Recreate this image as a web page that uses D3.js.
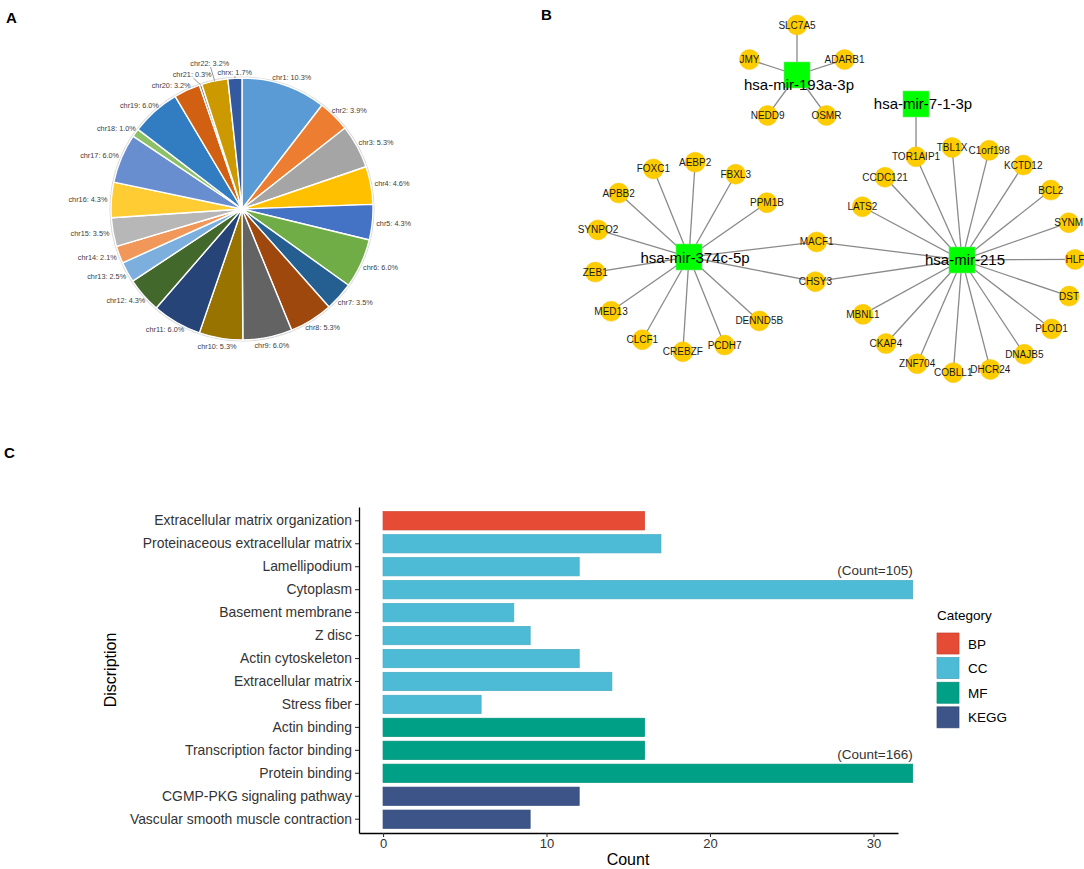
<!DOCTYPE html>
<html>
<head>
<meta charset="utf-8">
<script src="https://cdn.jsdelivr.net/npm/d3@7"></script>
<style>
  html, body { margin: 0; padding: 0; background: #fff; }
  svg { display: block; font-family: Arial, "Liberation Sans", sans-serif; }
</style>
</head>
<body>
<svg id="fig" width="1084" height="869"></svg>
<script>
// ---------------- DATA ----------------
// Panel A
const chromosomes = ["chr1","chr2","chr3","chr4","chr5","chr6","chr7","chr8","chr9","chr10","chr11","chr12",
  "chr13","chr14","chr15","chr16","chr17","chr18","chr19","chr20","chr21","chr22","chrx"];
const chrPercents = [10.3,3.9,5.3,4.6,4.3,6.0,3.5,5.3,6.0,5.3,6.0,4.3,2.5,2.1,3.5,4.3,6.0,1.0,6.0,3.2,0.3,3.2,1.7];

// Panel B
const mirnas = ["hsa-mir-193a-3p","hsa-mir-7-1-3p","hsa-mir-374c-5p","hsa-mir-215"];
const targets193a = ["SLC7A5","ADARB1","OSMR","NEDD9","JMY"];
const targets7 = ["TOR1AIP1"];
const targets374c = ["FOXC1","AEBP2","FBXL3","PPM1B","MACF1","CHSY3","DENND5B","PCDH7","CREBZF","CLCF1","MED13","ZEB1","SYNPO2","APBB2"];
const targets215 = ["TOR1AIP1","TBL1X","C1orf198","KCTD12","BCL2","SYNM","HLF","DST","PLOD1","DNAJB5","DHCR24","COBLL1","ZNF704","CKAP4","MBNL1","CHSY3","MACF1","LATS2","CCDC121"];

// Panel C
const terms = ["Extracellular matrix organization","Proteinaceous extracellular matrix","Lamellipodium","Cytoplasm",
  "Basement membrane","Z disc","Actin cytoskeleton","Extracellular matrix","Stress fiber","Actin binding",
  "Transcription factor binding","Protein binding","CGMP-PKG signaling pathway","Vascular smooth muscle contraction"];
const termCounts = [16,17,12,105,8,9,12,14,6,16,16,166,12,9];
const termCategory = ["BP","CC","CC","CC","CC","CC","CC","CC","CC","MF","MF","MF","KEGG","KEGG"];
const categories = ["BP","CC","MF","KEGG"];
const xTicks = [0,10,20,30];

// ---------------- STYLE ----------------
const pieColors = ["#5B9BD5","#ED7D31","#A5A5A5","#FFC000","#4472C4","#70AD47","#255E91","#9E480E","#636363",
  "#997300","#264478","#43682B","#7CAFDD","#F1975A","#B7B7B7","#FFCD33","#698ED0","#8CC168","#327DC2",
  "#D26012","#848484","#CC9A00","#335AA1"];
const catColors = {BP:"#E64B35", CC:"#4DBBD5", MF:"#00A087", KEGG:"#3C5488"};

const svg = d3.select("#fig");
svg.append("rect").attr("width",1084).attr("height",869).attr("fill","#fff");

// panel letters
[["A",6,23],["B",541,20],["C",4,458]].forEach(([t,x,y]) =>
  svg.append("text").attr("x",x).attr("y",y).text(t)
    .attr("font-size",15).attr("font-weight","bold").attr("fill","#000"));

// ================= PANEL A : pie =================
(function(){
  const cx = 242, cy = 209, R = 131;
  const g = svg.append("g").attr("transform",`translate(${cx},${cy})`);
  const data = chromosomes.map((c,i)=>({name:c, value:chrPercents[i], color:pieColors[i]}));
  const pie = d3.pie().sort(null).value(d=>d.value);
  const arcs = pie(data);
  const arc = d3.arc().innerRadius(0).outerRadius(R);
  g.append("circle").attr("r",R+0.8).attr("fill","none").attr("stroke","#d8d8d8").attr("stroke-width",1.5);
  g.selectAll("path.slice").data(arcs).join("path")
    .attr("class","slice").attr("d",arc)
    .attr("fill",d=>d.data.color).attr("stroke","#fff").attr("stroke-width",1.4).attr("stroke-linejoin","round");

  const nudge = {chr20:[-6,3], chr21:[-1,-3], chr22:[0,-10], chrx:[1,2]};
  const leader = new Set(["chr21","chr22","chrx"]);
  const fs = 7.3;
  const lab = g.append("g").attr("font-size",fs).attr("fill","#404040");
  arcs.forEach(a=>{
    const t = `${a.data.name}: ${a.data.value.toFixed(1)}%`;
    const mid = (a.startAngle+a.endAngle)/2;
    const s = Math.sin(mid), c = -Math.cos(mid);
    const txt = lab.append("text").text(t).attr("text-anchor","middle");
    const w = txt.node().getComputedTextLength();
    const h = fs*1.1;
    const rr = R+4;
    const nd = nudge[a.data.name] || [0,0];
    const x = rr*s + (w/2)*s + nd[0];
    const y = rr*c + (h/2)*c + nd[1];
    txt.attr("x",x).attr("y",y+fs*0.35);
    if (leader.has(a.data.name)) {
      g.insert("line","g").attr("x1",R*s).attr("y1",R*c)
        .attr("x2",x - (w/2)*s*0.2).attr("y2",y+h/2)
        .attr("stroke","#7f7f7f").attr("stroke-width",0.8);
    }
  });
})();

// ================= PANEL B : network =================
(function(){
  const hubLayout = {
    "hsa-mir-193a-3p": {cx:797, cy:75, r:50, start:0, targets:targets193a, ldx:2, ldy:10},
    "hsa-mir-7-1-3p":  {cx:916, cy:104, r:0, start:0, targets:targets7, ldx:7, ldy:0},
    "hsa-mir-374c-5p": {cx:689, cy:257, r:95, start:338, targets:targets374c, ldx:6, ldy:1},
    "hsa-mir-215":     {cx:962, cy:260, r:113, start:336, targets:targets215, ldx:3, ldy:0}
  };
  const slots = {};
  mirnas.forEach(m=>{
    const L = hubLayout[m];
    if (L.r <= 0) return;
    const ang = d3.scaleLinear().domain([0, L.targets.length]).range([L.start, L.start+360]);
    L.targets.forEach((t,i)=>{
      const a = ang(i)*Math.PI/180;
      (slots[t] = slots[t]||[]).push([L.cx + L.r*Math.sin(a), L.cy - L.r*Math.cos(a)]);
    });
  });
  const genePos = {};
  Object.keys(slots).forEach(k=>{
    genePos[k] = [d3.mean(slots[k],p=>p[0]), d3.mean(slots[k],p=>p[1])];
  });
  const edges = [];
  mirnas.forEach(m=>hubLayout[m].targets.forEach(t=>edges.push([m,t])));

  const g = svg.append("g");
  g.selectAll("line.edge").data(edges).join("line")
    .attr("x1",d=>hubLayout[d[0]].cx).attr("y1",d=>hubLayout[d[0]].cy)
    .attr("x2",d=>genePos[d[1]][0]).attr("y2",d=>genePos[d[1]][1])
    .attr("stroke","#8a8a8a").attr("stroke-width",1.3);
  const genes = Object.keys(genePos);
  g.selectAll("circle.gene").data(genes).join("circle")
    .attr("cx",d=>genePos[d][0]).attr("cy",d=>genePos[d][1]).attr("r",10)
    .attr("fill","#FFCC00").attr("stroke","#F5C400").attr("stroke-width",0.5);
  g.selectAll("rect.hub").data(mirnas).join("rect")
    .attr("x",d=>hubLayout[d].cx-13).attr("y",d=>hubLayout[d].cy-13)
    .attr("width",26).attr("height",26).attr("fill","#00FF00").attr("stroke","#7be87b").attr("stroke-width",0.6);
  g.selectAll("text.gene").data(genes).join("text")
    .attr("x",d=>genePos[d][0]).attr("y",d=>genePos[d][1]+3.5)
    .attr("text-anchor","middle").attr("font-size",10).attr("fill","#1a1a1a").text(d=>d);
  g.selectAll("text.hub").data(mirnas).join("text")
    .attr("x",d=>hubLayout[d].cx+hubLayout[d].ldx).attr("y",d=>hubLayout[d].cy+hubLayout[d].ldy+5.3)
    .attr("text-anchor","middle").attr("font-size",15).attr("fill","#000").text(d=>d);
})();

// ================= PANEL C : bar chart =================
(function(){
  const cap = 32.4;
  const x = d3.scaleLinear().domain([-1.47, 31.5]).range([359, 898]);
  const y = d3.scaleBand().domain(terms).range([507, 833]).paddingInner(0.2).paddingOuter(0.2);
  const g = svg.append("g");
  const rows = terms.map((t,i)=>({term:t, count:termCounts[i], cat:termCategory[i]}));

  g.selectAll("rect.bar").data(rows).join("rect")
    .attr("x",x(0)).attr("y",d=>y(d.term))
    .attr("width",d=>x(Math.min(d.count,cap))-x(0)).attr("height",y.bandwidth())
    .attr("fill",d=>catColors[d.cat]).attr("stroke",d=>d3.color(catColors[d.cat]).darker(0.25)).attr("stroke-width",0.7);

  g.selectAll("text.cnt").data(rows.filter(d=>d.count>cap)).join("text")
    .attr("x",x(cap)).attr("y",d=>y(d.term)-5)
    .attr("text-anchor","end").attr("font-size",13.5).attr("fill","#333").text(d=>`(Count=${d.count})`);

  // y axis
  const ya = g.append("g").attr("transform",`translate(${x.range()[0]},0)`)
    .call(d3.axisLeft(y).tickSize(4).tickSizeOuter(0).tickPadding(3));
  ya.select(".domain").attr("stroke","#000").attr("stroke-width",1.3);
  ya.selectAll(".tick line").attr("stroke","#333").attr("stroke-width",1.1);
  ya.selectAll(".tick text").attr("font-size",13.9).attr("fill","#333").attr("font-family","Arial, 'Liberation Sans', sans-serif");

  // x axis
  const xa = g.append("g").attr("transform",`translate(0,${y.range()[1]})`)
    .call(d3.axisBottom(x).tickValues(xTicks).tickSize(4).tickSizeOuter(0).tickPadding(2).tickFormat(d3.format("d")));
  xa.select(".domain").attr("stroke","#000").attr("stroke-width",1.3);
  xa.selectAll(".tick line").attr("stroke","#333").attr("stroke-width",1.1);
  xa.selectAll(".tick text").attr("font-size",13).attr("fill","#333").attr("font-family","Arial, 'Liberation Sans', sans-serif");

  g.append("text").attr("x",628).attr("y",865).attr("text-anchor","middle")
    .attr("font-size",16).attr("fill","#000").text("Count");
  g.append("text").attr("transform","translate(116,670) rotate(-90)").attr("text-anchor","middle")
    .attr("font-size",16).attr("fill","#000").text("Discription");

  // legend
  const lg = g.append("g").attr("transform","translate(937,0)");
  lg.append("text").attr("x",0).attr("y",620).attr("font-size",13.5).attr("fill","#000").text("Category");
  const ly = d3.scaleBand().domain(categories).range([633, 729]).paddingInner(0.1).paddingOuter(0);
  lg.selectAll("rect").data(categories).join("rect")
    .attr("x",0).attr("y",d=>ly(d)).attr("width",22).attr("height",21)
    .attr("fill",d=>catColors[d]).attr("stroke",d=>d3.color(catColors[d]).darker(0.4)).attr("stroke-width",0.7);
  lg.selectAll("text.k").data(categories).join("text").attr("class","k")
    .attr("x",31).attr("y",d=>ly(d)+15.5).attr("font-size",13.5).attr("fill","#000").text(d=>d);
})();
</script>
</body>
</html>
